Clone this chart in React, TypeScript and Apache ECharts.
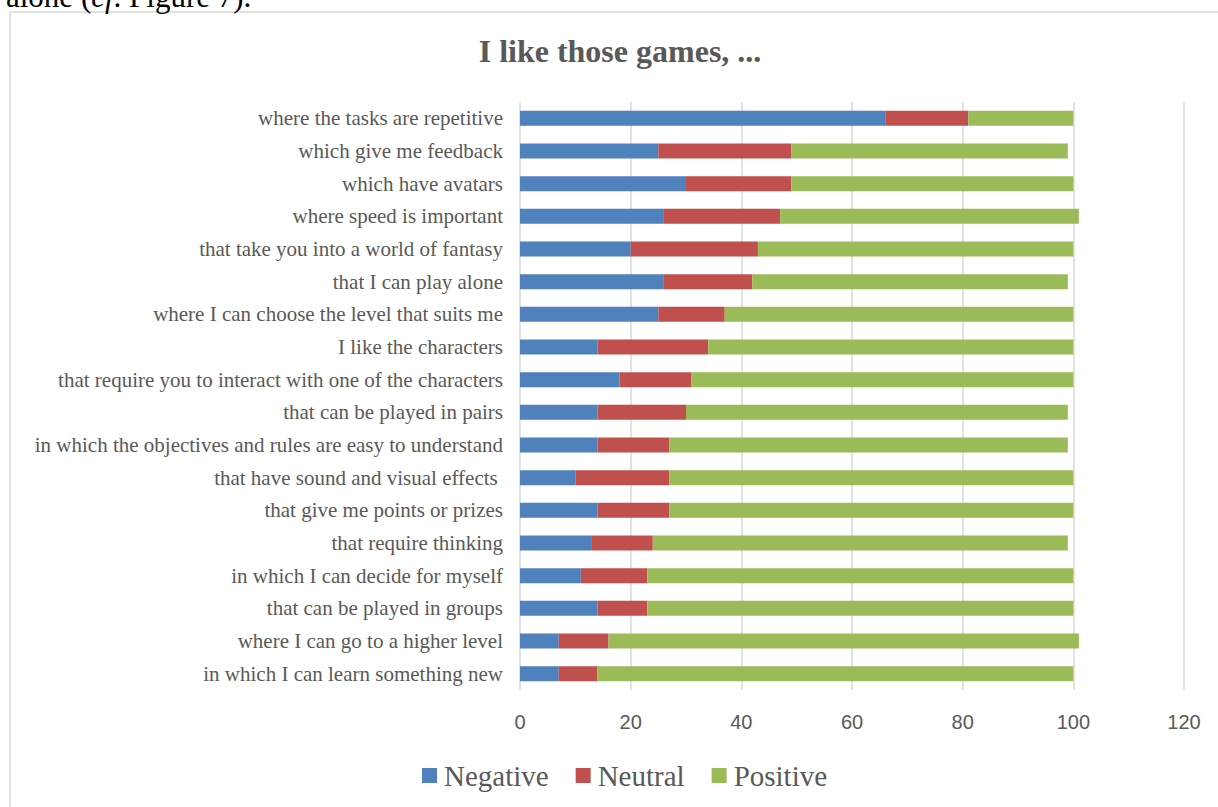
import React, { useEffect, useRef } from "react";
import * as echarts from "echarts";

const categories = [
  "where the tasks are repetitive",
  "which give me feedback",
  "which have avatars",
  "where speed is important",
  "that take you into a world of fantasy",
  "that I can play alone",
  "where I can choose the level that suits me",
  "I like the characters",
  "that require you to interact with one of the characters",
  "that can be played in pairs",
  "in which the objectives and rules are easy to understand",
  "that have sound and visual effects ",
  "that give me points or prizes",
  "that require thinking",
  "in which I can decide for myself",
  "that can be played in groups",
  "where I can go to a higher level",
  "in which I can learn something new",
];

const negative = [66, 25, 30, 26, 20, 26, 25, 14, 18, 14, 14, 10, 14, 13, 11, 14, 7, 7];
const neutral = [15, 24, 19, 21, 23, 16, 12, 20, 13, 16, 13, 17, 13, 11, 12, 9, 9, 7];
const positive = [19, 50, 51, 54, 57, 57, 63, 66, 69, 69, 72, 73, 73, 75, 77, 77, 85, 86];

const seriesNames = ["Negative", "Neutral", "Positive"];
const seriesColors = ["#4f81bd", "#c0504d", "#9bbb59"];

const titleText = "I like those games, ...";

export default function App() {
  const ref = useRef<HTMLDivElement>(null);

  useEffect(() => {
    if (!ref.current) return;
    const chart = echarts.init(ref.current, undefined, { renderer: "svg" });
    const values = [negative, neutral, positive];
    chart.setOption({
      animation: false,
      backgroundColor: "#ffffff",
      graphic: [
        {
          type: "rect",
          shape: { x: 10, y: 12, width: 1240, height: 830 },
          style: { fill: "none", stroke: "#d9d9d9", lineWidth: 1.5 },
          silent: true,
        },
        {
          type: "text",
          style: {
            x: 6,
            y: -19,
            text: "{n|alone (}{i|cf}{n|. Figure 7).}",
            rich: {
              n: { fontFamily: "'Liberation Serif', serif", fontSize: 31, fill: "#000" },
              i: { fontFamily: "'Liberation Serif', serif", fontSize: 31, fontStyle: "italic", fill: "#000" },
            },
            verticalAlign: "top",
          },
          silent: true,
        },
        {
          type: "text",
          style: {
            x: 620,
            y: 51,
            text: titleText,
            align: "center",
            verticalAlign: "middle",
            fontFamily: "'Liberation Serif', serif",
            fontWeight: "bold",
            fontSize: 32,
            fill: "#595959",
          },
          silent: true,
        },
      ],
      legend: {
        data: seriesNames,
        left: 417,
        top: 756,
        itemWidth: 15,
        itemHeight: 15,
        itemGap: 27,
        icon: "rect",
        textStyle: {
          fontFamily: "'Liberation Serif', serif",
          fontSize: 29,
          color: "#595959",
          padding: [0, 0, 0, 2],
        },
      },
      grid: { left: 520, right: 34, top: 102, bottom: 117, containLabel: false },
      xAxis: {
        type: "value",
        min: 0,
        max: 120,
        interval: 20,
        axisLine: { show: false },
        axisTick: { show: false },
        splitLine: { show: true, lineStyle: { color: "#d9d9d9", width: 1.5 } },
        axisLabel: {
          color: "#595959",
          fontFamily: "'Liberation Sans', sans-serif",
          fontSize: 20,
          margin: 22,
        },
      },
      yAxis: {
        type: "category",
        data: categories,
        inverse: true,
        axisLine: { show: false },
        axisTick: { show: false },
        splitLine: { show: false },
        axisLabel: {
          color: "#595959",
          fontFamily: "'Liberation Serif', serif",
          fontSize: 21,
          margin: 17,
        },
      },
      series: seriesNames.map((name, i) => ({
        name,
        type: "bar",
        stack: "total",
        barWidth: 15,
        data: values[i],
        itemStyle: { color: seriesColors[i] },
      })),
    });
    return () => chart.dispose();
  }, []);

  return (
    <div
      ref={ref}
      style={{ position: "fixed", left: 0, top: 0, width: 1218, height: 807, background: "#fff" }}
    />
  );
}
